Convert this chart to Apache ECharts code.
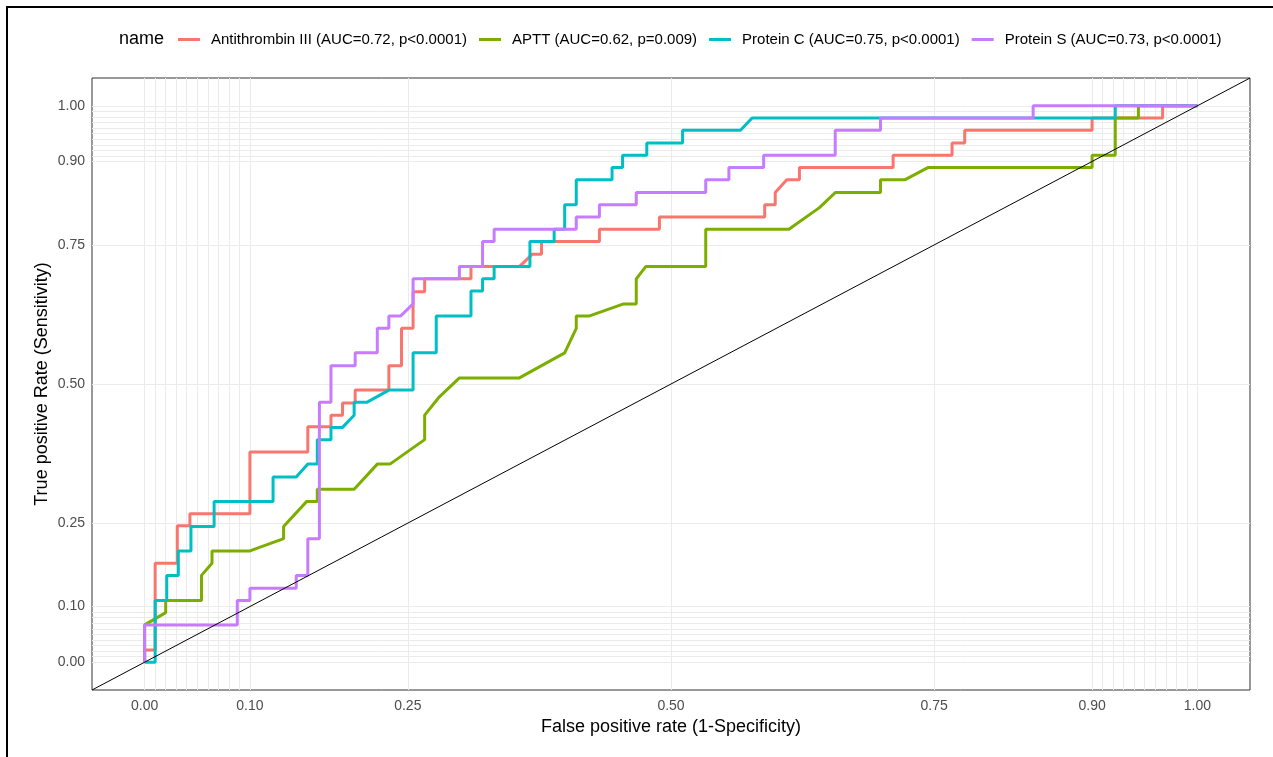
<!DOCTYPE html>
<html>
<head>
<meta charset="utf-8">
<script src="https://cdn.jsdelivr.net/npm/echarts@6/dist/echarts.min.js"></script>
<style>html,body{margin:0;padding:0;background:#fff}#chart{width:1273px;height:757px}</style>
</head>
<body>
<div id="chart"></div>
<script>
// ---- data (fpr, tpr) ----
const seriesNames = [
  'Antithrombin III (AUC=0.72, p<0.0001)',
  'APTT (AUC=0.62, p=0.009)',
  'Protein C (AUC=0.75, p<0.0001)',
  'Protein S (AUC=0.73, p<0.0001)'
];
const antithrombinIII = [[0,0],[0,0.022],[0.010,0.022],[0.010,0.178],[0.031,0.178],[0.031,0.245],[0.043,0.245],[0.043,0.267],[0.100,0.267],[0.100,0.378],[0.155,0.378],[0.155,0.423],[0.177,0.423],[0.177,0.444],[0.188,0.444],[0.188,0.466],[0.200,0.466],[0.200,0.489],[0.232,0.489],[0.232,0.533],[0.244,0.533],[0.244,0.600],[0.255,0.600],[0.255,0.666],[0.266,0.666],[0.266,0.689],[0.310,0.689],[0.310,0.711],[0.356,0.711],[0.368,0.733],[0.377,0.733],[0.377,0.756],[0.432,0.756],[0.432,0.778],[0.489,0.778],[0.489,0.800],[0.589,0.800],[0.589,0.822],[0.599,0.822],[0.599,0.844],[0.610,0.867],[0.622,0.867],[0.622,0.889],[0.711,0.889],[0.711,0.911],[0.767,0.911],[0.767,0.933],[0.779,0.933],[0.779,0.956],[0.900,0.956],[0.900,0.978],[0.967,0.978],[0.967,1.0],[1.0,1.0]];
const aptt = [[0,0],[0,0.067],[0.020,0.089],[0.020,0.111],[0.054,0.111],[0.054,0.156],[0.064,0.178],[0.064,0.200],[0.100,0.200],[0.132,0.222],[0.132,0.244],[0.154,0.289],[0.164,0.289],[0.164,0.311],[0.199,0.311],[0.221,0.356],[0.233,0.356],[0.266,0.400],[0.266,0.444],[0.280,0.477],[0.299,0.511],[0.356,0.511],[0.399,0.556],[0.410,0.600],[0.410,0.622],[0.422,0.622],[0.455,0.644],[0.467,0.644],[0.467,0.689],[0.476,0.711],[0.533,0.711],[0.533,0.778],[0.612,0.778],[0.641,0.817],[0.656,0.844],[0.699,0.844],[0.699,0.867],[0.722,0.867],[0.744,0.889],[0.900,0.889],[0.900,0.911],[0.922,0.911],[0.922,0.978],[0.944,0.978],[0.944,1.0],[1.0,1.0]];
const proteinC = [[0,0],[0.010,0],[0.010,0.111],[0.021,0.111],[0.021,0.156],[0.032,0.156],[0.032,0.200],[0.044,0.200],[0.044,0.244],[0.066,0.244],[0.066,0.289],[0.122,0.289],[0.122,0.333],[0.144,0.333],[0.155,0.356],[0.164,0.356],[0.164,0.400],[0.177,0.400],[0.177,0.422],[0.188,0.422],[0.199,0.444],[0.199,0.467],[0.211,0.467],[0.232,0.489],[0.255,0.489],[0.255,0.556],[0.277,0.556],[0.277,0.622],[0.310,0.622],[0.310,0.667],[0.321,0.667],[0.321,0.689],[0.332,0.689],[0.332,0.711],[0.366,0.711],[0.366,0.756],[0.389,0.756],[0.389,0.778],[0.399,0.778],[0.399,0.822],[0.410,0.822],[0.410,0.867],[0.444,0.867],[0.444,0.889],[0.454,0.889],[0.454,0.911],[0.477,0.911],[0.477,0.933],[0.511,0.933],[0.511,0.956],[0.566,0.956],[0.577,0.978],[0.922,0.978],[0.922,1.0],[1.0,1.0]];
const proteinS = [[0,0],[0,0.067],[0.088,0.067],[0.088,0.111],[0.100,0.111],[0.100,0.133],[0.144,0.133],[0.144,0.156],[0.155,0.156],[0.155,0.222],[0.166,0.222],[0.166,0.467],[0.177,0.467],[0.177,0.533],[0.200,0.533],[0.200,0.556],[0.221,0.556],[0.221,0.600],[0.232,0.600],[0.232,0.622],[0.243,0.622],[0.255,0.644],[0.255,0.689],[0.299,0.689],[0.299,0.711],[0.321,0.711],[0.321,0.756],[0.332,0.756],[0.332,0.778],[0.410,0.778],[0.410,0.800],[0.432,0.800],[0.432,0.822],[0.467,0.822],[0.467,0.844],[0.533,0.844],[0.533,0.867],[0.555,0.867],[0.555,0.889],[0.588,0.889],[0.588,0.911],[0.656,0.911],[0.656,0.956],[0.699,0.956],[0.699,0.978],[0.844,0.978],[0.844,1.0],[1.0,1.0]];
const referenceLine = [[-0.05,-0.05],[1.05,1.05]];
const tickValues = [0, 0.1, 0.25, 0.5, 0.75, 0.9, 1];
const minorValues = [0.01,0.02,0.03,0.04,0.05,0.06,0.07,0.08,0.09,0.91,0.92,0.93,0.94,0.95,0.96,0.97,0.98,0.99];

// ---- styling ----
const curveData = [antithrombinIII, aptt, proteinC, proteinS];
const curveColors = ['#F8766D', '#7CAE00', '#00BFC4', '#C77CFF'];
const FONT = "'Liberation Sans', Arial, sans-serif";
const gridVals = tickValues.concat(minorValues);

const chart = echarts.init(document.getElementById('chart'), null, {renderer: 'canvas'});
const axisCommon = {
  type: 'value', min: -0.05, max: 1.05,
  axisLine: {show: false},
  splitLine: {show: false},
  axisTick: {show: true, customValues: tickValues, length: 4, lineStyle: {color: '#333333', width: 1}},
  axisLabel: {customValues: tickValues, formatter: v => v.toFixed(2), color: '#4D4D4D', fontSize: 14, fontFamily: FONT},
  nameLocation: 'middle',
  nameMoveOverlap: false,
  nameTextStyle: {color: '#000', fontSize: 18, fontFamily: FONT}
};
const series = [{
  type: 'line', data: [], silent: true, z: 1,
  markLine: {
    silent: true, symbol: ['none', 'none'], animation: false, z: 1,
    label: {show: false},
    lineStyle: {color: '#EBEBEB', width: 1, type: 'solid'},
    emphasis: {disabled: true},
    data: gridVals.map(v => ({xAxis: v})).concat(gridVals.map(v => ({yAxis: v})))
  }
}];
curveData.forEach((d, i) => {
  series.push({
    name: seriesNames[i], type: 'line', data: d, showSymbol: false, symbol: 'none',
    lineStyle: {color: curveColors[i], width: 3}, itemStyle: {color: curveColors[i]},
    z: 6 + i, silent: true
  });
});
series.push({
  type: 'line', data: referenceLine, showSymbol: false, symbol: 'none', silent: true,
  lineStyle: {color: '#000', width: 1}, z: 12
});

chart.setOption({
  animation: false,
  backgroundColor: '#fff',
  grid: {left: 92, right: 23, top: 78, bottom: 67, show: true, borderColor: '#333333', borderWidth: 1, backgroundColor: 'transparent'},
  xAxis: Object.assign({}, axisCommon, {name: 'False positive rate (1-Specificity)', nameGap: 28,
    axisLabel: Object.assign({}, axisCommon.axisLabel, {margin: 9})}),
  yAxis: Object.assign({}, axisCommon, {name: 'True positive Rate (Sensitivity)', nameGap: 41,
    axisLabel: Object.assign({}, axisCommon.axisLabel, {margin: 7})}),
  legend: {
    data: seriesNames, left: 173, top: 27, icon: 'rect', itemWidth: 22, itemHeight: 3, itemGap: 12,
    textStyle: {color: '#000', fontSize: 15, fontFamily: FONT, padding: [0, 0, 0, 6]},
    selectedMode: false
  },
  graphic: [
    {type: 'text', left: 119, top: 30, style: {text: 'name', fill: '#000', font: "18px 'Liberation Sans', Arial, sans-serif"}},
    {type: 'rect', shape: {x: 7, y: 7, width: 1400, height: 900}, style: {fill: 'none', stroke: '#000', lineWidth: 2}, silent: true}
  ],
  series: series
});
</script>
</body>
</html>
